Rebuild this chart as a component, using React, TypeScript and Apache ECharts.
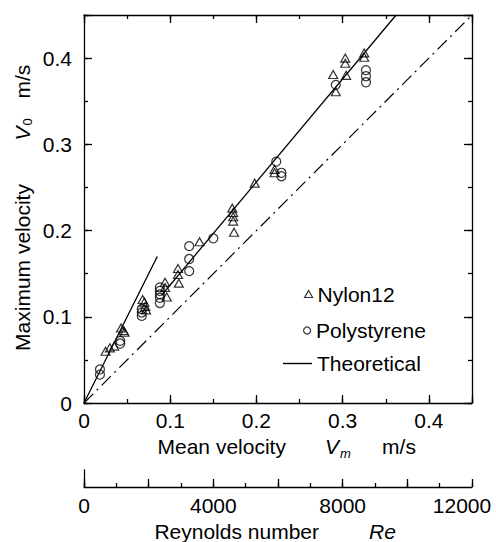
import React, { useEffect, useRef } from 'react';
import * as echarts from 'echarts';

// Nylon12 (triangles): mean velocity Vm [m/s], maximum velocity V0 [m/s]
const nylonVm = [0.025, 0.030, 0.035, 0.043, 0.046, 0.047, 0.068, 0.070, 0.071, 0.072, 0.094, 0.094, 0.096, 0.109, 0.109, 0.110, 0.134, 0.172, 0.173, 0.173, 0.173, 0.174, 0.198, 0.221, 0.221, 0.289, 0.292, 0.303, 0.303, 0.304, 0.325, 0.325];
const nylonV0 = [0.060, 0.064, 0.066, 0.087, 0.084, 0.082, 0.120, 0.117, 0.112, 0.108, 0.140, 0.134, 0.123, 0.156, 0.149, 0.139, 0.187, 0.226, 0.221, 0.216, 0.211, 0.198, 0.255, 0.271, 0.267, 0.381, 0.361, 0.400, 0.394, 0.380, 0.406, 0.401];

// Polystyrene (circles)
const polyVm = [0.0185, 0.0185, 0.042, 0.042, 0.067, 0.067, 0.067, 0.088, 0.088, 0.088, 0.088, 0.088, 0.122, 0.122, 0.122, 0.150, 0.223, 0.229, 0.229, 0.292, 0.327, 0.327, 0.327];
const polyV0 = [0.039, 0.033, 0.072, 0.069, 0.109, 0.105, 0.101, 0.134, 0.130, 0.126, 0.122, 0.116, 0.182, 0.167, 0.153, 0.191, 0.280, 0.267, 0.263, 0.369, 0.386, 0.379, 0.372];

// Theoretical lines
const laminarVm = [0, 0.085];
const laminarV0 = [0, 0.17];
const turbulentVm = [0.09, 0.362];
const turbulentV0 = [0.125, 0.45];
// V0 = Vm reference line
const diagonalVm = [0, 0.45];
const diagonalV0 = [0, 0.45];

// Tick labels
const velocityTicks = [0, 0.1, 0.2, 0.3, 0.4];
const reynoldsTicks = [0, 4000, 8000, 12000];

const FONT = 'Liberation Sans, Arial, Helvetica, sans-serif';
const zip = (a: number[], b: number[]) => a.map((v, i) => [v, b[i]]);

const velLabel = (v: number) =>
  velocityTicks.some((t) => Math.abs(t - v) < 1e-6) ? String(Number(v.toFixed(1))) : '';

const black = { color: '#000', width: 1.3 };

function velAxis(position: string, major: boolean, labels: boolean, isY: boolean) {
  return {
    type: 'value',
    gridIndex: 0,
    position,
    min: 0,
    max: 0.45,
    interval: major ? 0.1 : 0.05,
    axisLine: { show: major, onZero: false, lineStyle: black },
    axisTick: { show: true, inside: true, length: major ? 8 : 4, lineStyle: black },
    axisLabel: labels
      ? {
          show: true,
          formatter: velLabel,
          color: '#000',
          fontSize: 21,
          fontFamily: FONT,
          margin: isY ? 12 : 7,
        }
      : { show: false },
    splitLine: { show: false },
  };
}

export default function App() {
  const ref = useRef<HTMLDivElement>(null);
  useEffect(() => {
    if (!ref.current) return;
    const chart = echarts.init(ref.current, undefined, { renderer: 'svg' });
    const txt = (text: string, x: number, y: number, extra: any = {}, rot = 0) => ({
      type: 'text',
      x,
      y,
      rotation: rot,
      style: {
        text,
        fill: '#000',
        fontSize: 21,
        fontFamily: FONT,
        align: 'center',
        verticalAlign: 'middle',
        ...extra,
      },
    });
    const R = Math.PI / 2;
    const option: any = {
      animation: false,
      backgroundColor: '#fff',
      grid: [
        { left: 84, top: 15, width: 388, height: 388 },
        { left: 84, top: 470, width: 388, height: 17 },
      ],
      xAxis: [
        velAxis('bottom', true, true, false),
        velAxis('bottom', false, false, false),
        velAxis('top', true, false, false),
        velAxis('top', false, false, false),
        {
          type: 'value',
          gridIndex: 1,
          position: 'bottom',
          min: 0,
          max: 12000,
          interval: 2000,
          axisLine: { show: true, onZero: false, lineStyle: black },
          axisTick: { show: true, inside: true, length: 8, lineStyle: black },
          axisLabel: {
            show: true,
            margin: 8,
            color: '#000',
            fontSize: 21,
            fontFamily: FONT,
            formatter: (v: number) =>
              reynoldsTicks.includes(v)
                ? v === reynoldsTicks[reynoldsTicks.length - 1]
                  ? '{r|' + v + '}'
                  : String(v)
                : '',
            rich: { r: { fontSize: 21, fontFamily: FONT, color: '#000', padding: [0, 20, 0, 0] } },
          },
          splitLine: { show: false },
        },
        {
          type: 'value',
          gridIndex: 1,
          position: 'bottom',
          min: 0,
          max: 12000,
          interval: 1000,
          axisLine: { show: false },
          axisTick: { show: true, inside: true, length: 4, lineStyle: black },
          axisLabel: { show: false },
          splitLine: { show: false },
        },
      ],
      yAxis: [
        velAxis('left', true, true, true),
        velAxis('left', false, false, true),
        velAxis('right', true, false, true),
        velAxis('right', false, false, true),
        {
          type: 'value',
          gridIndex: 1,
          position: 'left',
          min: 0,
          max: 1,
          axisLine: { show: true, onZero: false, lineStyle: black },
          axisTick: { show: false },
          axisLabel: { show: false },
          splitLine: { show: false },
        },
      ],
      legend: [
        {
          data: ['Nylon12'],
          left: 304,
          top: 283.5,
          padding: 0,
          itemWidth: 8,
          itemHeight: 7,
          selectedMode: false,
          icon: 'triangle',
          itemStyle: { color: 'rgba(0,0,0,0)', borderColor: '#000', borderWidth: 1.2 },
          textStyle: { color: '#000', fontSize: 21, fontFamily: FONT },
        },
        {
          data: ['Polystyrene'],
          left: 303,
          top: 320,
          padding: 0,
          itemWidth: 8,
          itemHeight: 7,
          selectedMode: false,
          icon: 'circle',
          itemStyle: { color: 'rgba(0,0,0,0)', borderColor: '#000', borderWidth: 1.2 },
          textStyle: { color: '#000', fontSize: 21, fontFamily: FONT },
        },
        {
          data: [{ name: 'Theoretical', icon: 'rect' }],
          left: 283,
          top: 353,
          padding: 0,
          itemWidth: 29,
          itemHeight: 1.4,
          selectedMode: false,
          itemStyle: { color: '#000', borderWidth: 0 },
          lineStyle: { width: 0 },
          textStyle: { color: '#000', fontSize: 21, fontFamily: FONT },
        },
      ],
      series: [
        {
          name: 'V0 = Vm',
          type: 'line',
          xAxisIndex: 0,
          yAxisIndex: 0,
          data: zip(diagonalVm, diagonalV0),
          symbol: 'none',
          lineStyle: { color: '#000', width: 1.2, type: [13, 5, 2, 5] },
        },
        {
          name: 'Theoretical',
          type: 'line',
          xAxisIndex: 0,
          yAxisIndex: 0,
          data: zip(laminarVm, laminarV0),
          symbol: 'none',
          lineStyle: { color: '#000', width: 1.3 },
          itemStyle: { color: '#000' },
        },
        {
          name: 'Theoretical',
          type: 'line',
          xAxisIndex: 0,
          yAxisIndex: 0,
          data: zip(turbulentVm, turbulentV0),
          symbol: 'none',
          lineStyle: { color: '#000', width: 1.3 },
          itemStyle: { color: '#000' },
        },
        {
          name: 'Nylon12',
          type: 'scatter',
          xAxisIndex: 0,
          yAxisIndex: 0,
          data: zip(nylonVm, nylonV0),
          symbol: 'triangle',
          symbolSize: [9, 8],
          itemStyle: { color: 'rgba(0,0,0,0)', borderColor: '#000', borderWidth: 1.2 },
        },
        {
          name: 'Polystyrene',
          type: 'scatter',
          xAxisIndex: 0,
          yAxisIndex: 0,
          data: zip(polyVm, polyV0),
          symbol: 'circle',
          symbolSize: 9,
          itemStyle: { color: 'rgba(0,0,0,0)', borderColor: '#000', borderWidth: 1.2 },
        },
      ],
      graphic: [
        txt('Maximum velocity', 22, 267.5, {}, R),
        txt('V', 22, 133.5, { fontStyle: 'italic' }, R),
        txt('0', 27, 122, { fontSize: 13 }, R),
        txt('m/s', 22, 81.7, {}, R),
        txt('Mean velocity', 221.7, 446.7),
        txt('V', 332, 446.7, { fontStyle: 'italic' }),
        txt('m', 345.5, 453, { fontStyle: 'italic', fontSize: 13 }),
        txt('m/s', 399, 446.7),
        txt('Reynolds number', 236.7, 531.7),
        txt('Re', 382.5, 531.7, { fontStyle: 'italic' }),
      ],
    };
    chart.setOption(option);
    return () => chart.dispose();
  }, []);
  return (
    <div
      ref={ref}
      style={{ position: 'fixed', left: 0, top: 0, width: 496, height: 542, background: '#fff' }}
    />
  );
}
